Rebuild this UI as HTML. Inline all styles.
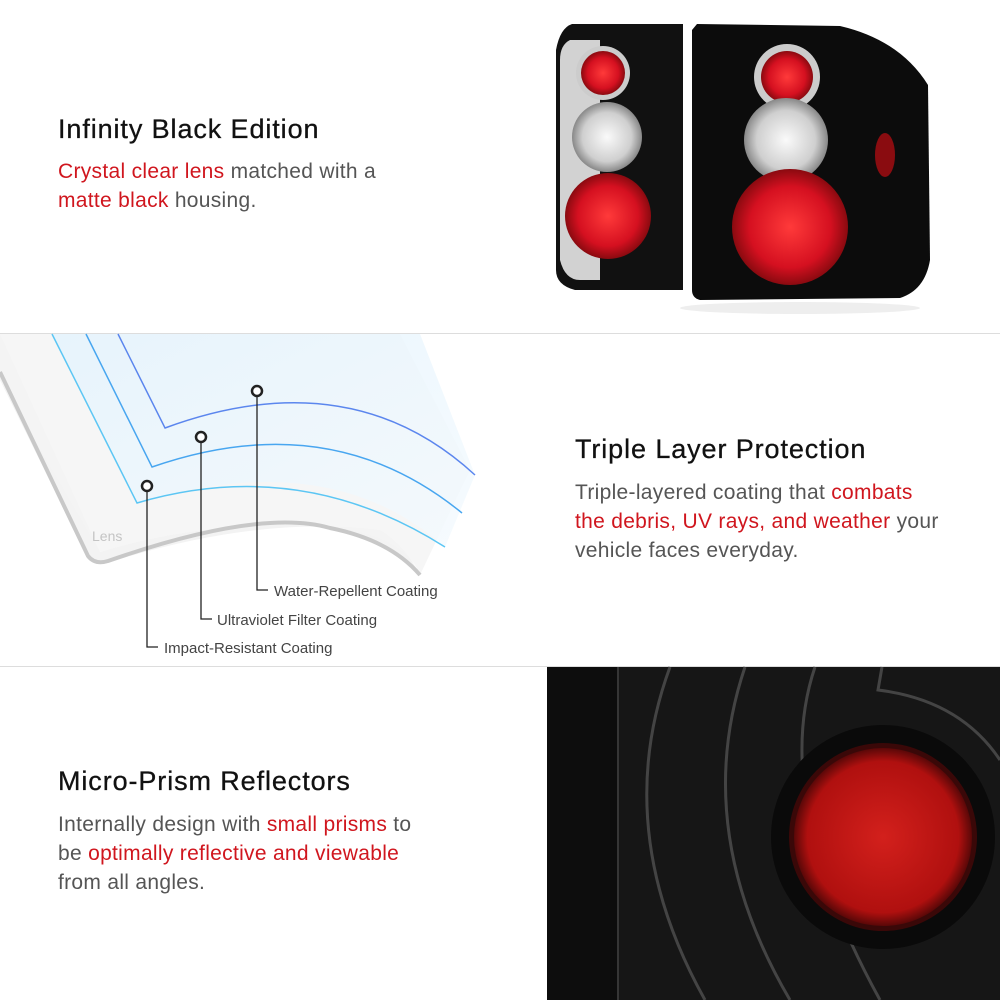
<!DOCTYPE html>
<html><head><meta charset="utf-8"><style>
html,body{margin:0;padding:0;background:#fff}
body{width:1000px;height:1000px;position:relative;overflow:hidden;font-family:"Liberation Sans",Arial,sans-serif}
.t{position:absolute;color:#111;font-size:27px;letter-spacing:0.9px;-webkit-text-stroke:0.3px #111}
.p{position:absolute;color:#555;font-size:21px;line-height:29px;letter-spacing:0.3px}
.r{color:#d0161e}
</style></head><body>
<svg width="1000" height="1000" style="position:absolute;left:0;top:0">
<defs>
<radialGradient id="red" cx="50%" cy="50%" r="50%"><stop offset="0" stop-color="#ff3a3a"/><stop offset=".7" stop-color="#d51020"/><stop offset="1" stop-color="#8a0a10"/></radialGradient>
<radialGradient id="sil" cx="50%" cy="50%" r="50%"><stop offset="0" stop-color="#fafafa"/><stop offset=".7" stop-color="#cfcfcf"/><stop offset="1" stop-color="#888"/></radialGradient>
<radialGradient id="refl" cx="50%" cy="50%" r="50%"><stop offset="0" stop-color="#d3201c"/><stop offset=".85" stop-color="#b0100f"/><stop offset="1" stop-color="#5a0808"/></radialGradient>
<linearGradient id="blu" x1="0" y1="0" x2="1" y2="1"><stop offset="0" stop-color="#e3f3fd"/><stop offset="1" stop-color="#f4fafe"/></linearGradient>
</defs>
<line x1="0" y1="333.5" x2="1000" y2="333.5" stroke="#ddd"/>
<line x1="0" y1="666.5" x2="1000" y2="666.5" stroke="#ddd"/>
<path d="M572 24 L683 24 L683 290 L575 290 Q556 285 556 270 L556 50 Q560 28 572 24Z" fill="#111"/>
<path d="M570 40 Q560 45 560 60 L560 260 Q565 280 580 280 L600 280 L600 40Z" fill="#e8e8e8" opacity=".9"/>
<path d="M697 24 L840 26 Q900 40 928 85 L930 260 Q925 290 900 298 L700 300 Q692 298 692 290 L692 30Z" fill="#0c0c0c"/>
<ellipse cx="800" cy="308" rx="120" ry="6" fill="#eee"/>
<circle cx="603" cy="73" r="27" fill="#ccc"/><circle cx="603" cy="73" r="22" fill="url(#red)"/>
<circle cx="607" cy="137" r="35" fill="url(#sil)"/>
<circle cx="608" cy="216" r="43" fill="url(#red)"/>
<circle cx="787" cy="77" r="33" fill="#ccc"/><circle cx="787" cy="77" r="26" fill="url(#red)"/>
<circle cx="786" cy="140" r="42" fill="url(#sil)"/>
<circle cx="790" cy="227" r="58" fill="url(#red)"/>
<ellipse cx="885" cy="155" rx="10" ry="22" fill="#8a0c10"/>
<path d="M0 334 L0 380 L88 558 Q95 567 110 562 Q260 515 380 530 Q405 545 420 575 Q380 520 260 525 Q170 530 100 552 L0 334Z" fill="#f3f3f3"/>
<path d="M0 334 L120 334 L400 334 L470 470 L420 575 Q400 520 260 525 Q170 530 100 552 L0 380Z" fill="#f4f4f4" opacity=".8"/>
<path d="M52 334 L420 334 L475 475 L445 547 Q330 445 137 503Z" fill="url(#blu)" opacity=".8"/>
<path d="M0 372 L88 556 Q95 565 108 561 Q260 508 330 528 Q390 540 420 575" fill="none" stroke="#c8c8c8" stroke-width="4"/>
<path d="M52 334 L137 503 Q300 455 445 547" fill="none" stroke="#5cc6f4" stroke-width="1.5"/>
<path d="M86 334 L152 467 Q330 405 462 513" fill="none" stroke="#48a6f0" stroke-width="1.5"/>
<path d="M118 334 L165 428 Q350 360 475 475" fill="none" stroke="#5b86ee" stroke-width="1.5"/>
<text x="92" y="541" font-size="14" fill="#c4c4c4" font-family="Liberation Sans,sans-serif">Lens</text>
<g fill="none" stroke="#222" stroke-width="1.3">
<path d="M257 396 L257 590 L268 590"/><path d="M201 442 L201 619 L212 619"/><path d="M147 491 L147 647 L158 647"/>
</g>
<g fill="#fff" stroke="#222" stroke-width="2.5"><circle cx="257" cy="391" r="5"/><circle cx="201" cy="437" r="5"/><circle cx="147" cy="486" r="5"/></g>
<g font-size="15" fill="#444" font-family="Liberation Sans,sans-serif">
<text x="274" y="596">Water-Repellent Coating</text>
<text x="217" y="625">Ultraviolet Filter Coating</text>
<text x="164" y="653">Impact-Resistant Coating</text>
</g>
<rect x="547" y="667" width="453" height="333" fill="#161616"/>
<rect x="547" y="667" width="70" height="333" fill="#0d0d0d"/>
<line x1="618" y1="667" x2="618" y2="1000" stroke="#555" stroke-width="1"/>
<g fill="none" stroke="#444" stroke-width="3">
<path d="M670 667 Q610 830 705 1000"/>
<path d="M745 667 Q690 830 790 1000"/>
<path d="M815 667 Q770 800 880 1000"/>
<path d="M882 667 L878 690 Q960 700 1000 760"/>
</g>
<circle cx="883" cy="837" r="112" fill="#0a0a0a"/>
<circle cx="883" cy="837" r="94" fill="#3a0808"/>
<circle cx="883" cy="837" r="89" fill="url(#refl)"/>
</svg>
<div class="t" style="left:58px;top:114px">Infinity Black Edition</div>
<div class="p" style="left:58px;top:157px"><span class="r">Crystal clear lens</span> matched with a<br><span class="r">matte black</span> housing.</div>
<div class="t" style="left:575px;top:434px">Triple Layer Protection</div>
<div class="p" style="left:575px;top:478px">Triple-layered coating that <span class="r">combats<br>the debris, UV rays, and weather</span> your<br>vehicle faces everyday.</div>
<div class="t" style="left:58px;top:766px">Micro-Prism Reflectors</div>
<div class="p" style="left:58px;top:810px">Internally design with <span class="r">small prisms</span> to<br>be <span class="r">optimally reflective and viewable</span><br>from all angles.</div>
</body></html>
